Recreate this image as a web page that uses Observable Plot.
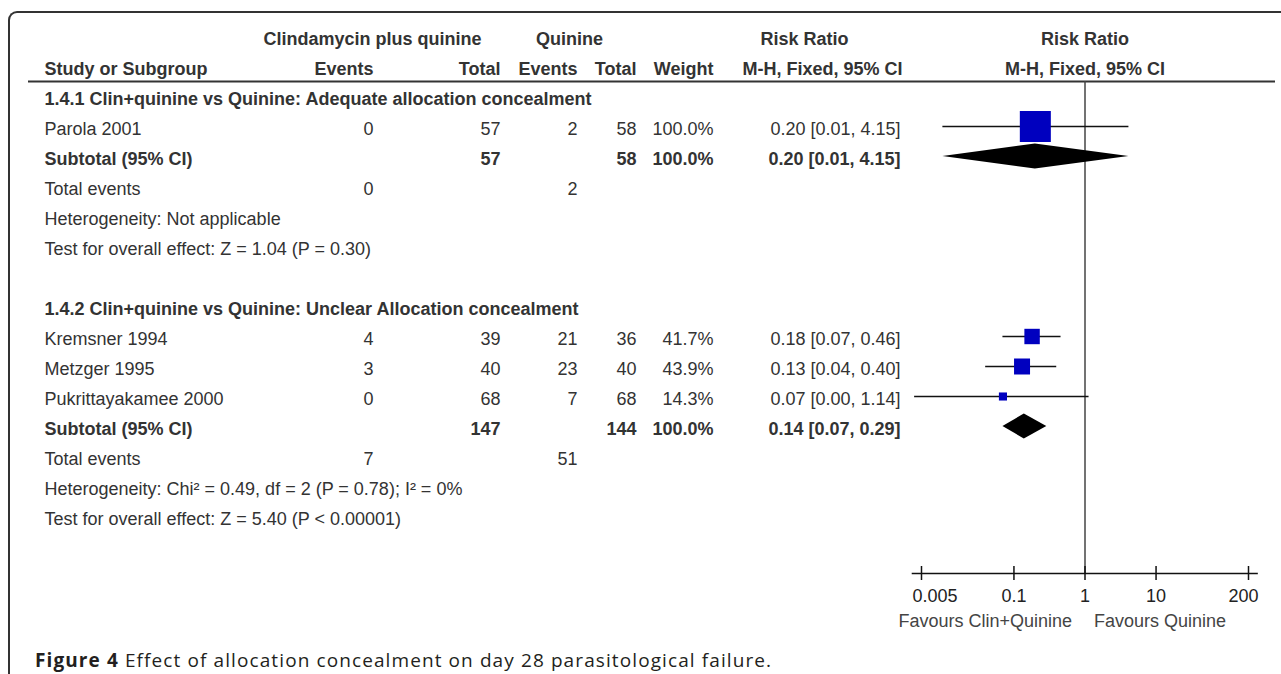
<!DOCTYPE html>
<html><head><meta charset="utf-8">
<script src="https://cdn.jsdelivr.net/npm/d3@7"></script>
<script src="https://cdn.jsdelivr.net/npm/@observablehq/plot@0.6"></script>
<style>
html,body{margin:0;padding:0;background:#fff;width:1281px;height:674px;overflow:hidden;}
#chart{position:absolute;left:0;top:0;}
#frame{position:absolute;left:8px;top:11px;width:1300px;height:700px;border-top:2px solid #333;border-left:2px solid #333;border-top-left-radius:9px;pointer-events:none;z-index:2;box-sizing:border-box;}
#caption{position:absolute;left:35px;top:649px;font-family:"Open Sans",sans-serif;font-size:19px;letter-spacing:1.1px;line-height:22px;color:#231f20;white-space:nowrap;}
</style></head><body>
<div id="chart"></div>
<div id="frame"></div>
<div id="caption"><b>Figure 4</b> Effect of allocation concealment on day 28 parasitological failure.</div>
<script>
// ---- data ----
const subgroups = [
  "1.4.1 Clin+quinine vs Quinine: Adequate allocation concealment",
  "1.4.2 Clin+quinine vs Quinine: Unclear Allocation concealment"
];
const studies = ["Parola 2001", "Kremsner 1994", "Metzger 1995", "Pukrittayakamee 2000"];
const studyGroup = [0, 1, 1, 1];
const expEvents = [0, 4, 3, 0];
const expTotal = [57, 39, 40, 68];
const ctlEvents = [2, 21, 23, 7];
const ctlTotal = [58, 36, 40, 68];
const weights = [100.0, 41.7, 43.9, 14.3];
const riskRatio = [0.20, 0.18, 0.13, 0.07];
const rrLow = [0.01, 0.07, 0.04, 0.004];
const rrHigh = [4.15, 0.46, 0.40, 1.14];

const subExpTotal = [57, 147];
const subCtlTotal = [58, 144];
const subWeight = [100.0, 100.0];
const subRR = [0.20, 0.14];
const subLow = [0.01, 0.07];
const subHigh = [4.15, 0.29];
const subExpEvents = [0, 7];
const subCtlEvents = [2, 51];
const heterogeneity = [
  "Heterogeneity: Not applicable",
  "Heterogeneity: Chi\u00b2 = 0.49, df = 2 (P = 0.78); I\u00b2 = 0%"
];
const overallEffect = [
  "Test for overall effect: Z = 1.04 (P = 0.30)",
  "Test for overall effect: Z = 5.40 (P < 0.00001)"
];
const axisTicks = [0.005, 0.1, 1, 10, 200];
const axisTickLabels = ["0.005", "0.1", "1", "10", "200"];
const axisExtent = [0.0037, 275];
const favourLabels = ["Favours Clin+Quinine", "Favours Quinine"];

// ---- rows ----
const studyRows = studies.map((s, i) => ({key: s, label: s, ee: expEvents[i], et: expTotal[i], ce: ctlEvents[i], ct: ctlTotal[i], w: weights[i], rr: riskRatio[i], lo: rrLow[i], hi: rrHigh[i]}));
const groupRows = subgroups.map((g, i) => ({key: "grp" + i, label: g}));
const subRows = subgroups.map((g, i) => ({key: "sub" + i, label: "Subtotal (95% CI)", et: subExpTotal[i], ct: subCtlTotal[i], w: subWeight[i], rr: subRR[i], lo: subLow[i], hi: subHigh[i]}));
const totRows = subgroups.map((g, i) => ({key: "tot" + i, label: "Total events", ee: subExpEvents[i], ce: subCtlEvents[i]}));
const hetRows = heterogeneity.map((t, i) => ({key: "het" + i, label: t}));
const effRows = overallEffect.map((t, i) => ({key: "eff" + i, label: t}));
const tickRows = axisTicks.map((t, i) => ({t, label: axisTickLabels[i], pos: i === 0 ? "first" : i === axisTicks.length - 1 ? "last" : "mid"}));

const rowOrder = ["h1", "h2"];
subgroups.forEach((g, i) => {
  rowOrder.push("grp" + i, ...studies.filter((s, j) => studyGroup[j] === i), "sub" + i, "tot" + i, "het" + i, "eff" + i, "gap" + i);
});
rowOrder.push("axis");

// ---- layout ----
const col = {label: 44, ee: 373, et: 500, ce: 577, ct: 636, w: 713, ci: 900, rrHead: 760, expHead: 263, ctlMid: 569};
const ink = "#333";
const T = (data, o) => Plot.text(data, {frameAnchor: "left", fill: ink, fontSize: 18, ...o});
const pct = d => d.w.toFixed(1) + "%";
const ciText = d => `${d.rr.toFixed(2)} [${d.lo.toFixed(2)}, ${d.hi.toFixed(2)}]`;
const B = {fontWeight: "bold"};
const markDy = -3;

function diamonds(index, scales) {
  const x = scales.x, y = scales.y;
  const g = d3.create("svg:g");
  for (const d of subRows) {
    const cy = y(d.key) + markDy;
    const h = 12.5;
    g.append("path")
      .attr("d", `M${x(d.lo)},${cy}L${x(d.rr)},${cy - h}L${x(d.hi)},${cy}L${x(d.rr)},${cy + h}Z`)
      .attr("fill", "#000");
  }
  return g.node();
}

const tickLabel = (pos, o) => Plot.text(tickRows.filter(d => d.pos === pos), {x: "t", y: () => "axis", dy: 17, text: "label", fill: "#222", fontSize: 18, ...o});

const chart = Plot.plot({
  width: 1281, height: 645,
  marginTop: 0, marginRight: 0, marginBottom: 0, marginLeft: 0,
  x: {type: "log", domain: [0.005, 200], range: [921, 1248], axis: null},
  y: {type: "point", domain: rowOrder, range: [38, 580], padding: 0, axis: null},
  r: {type: "linear", domain: [0, 100], range: [2.4, 17.5]},
  style: {fontFamily: "'Liberation Sans', Arial, Helvetica, sans-serif", fontSize: "18px", background: "transparent", color: ink},
  marks: [
    // headers
    T(["Clindamycin plus quinine"], {y: () => "h1", dx: col.expHead, textAnchor: "start", ...B}),
    T(["Quinine"], {y: () => "h1", dx: col.ctlMid, textAnchor: "middle", ...B}),
    T(["Risk Ratio"], {y: () => "h1", dx: col.rrHead, textAnchor: "start", ...B}),
    Plot.text(["Risk Ratio"], {x: () => 1, y: () => "h1", fill: ink, fontSize: 18, ...B}),
    T(["Study or Subgroup"], {y: () => "h2", dx: col.label, textAnchor: "start", ...B}),
    T(["Events"], {y: () => "h2", dx: col.ee, textAnchor: "end", ...B}),
    T(["Total"], {y: () => "h2", dx: col.et, textAnchor: "end", ...B}),
    T(["Events"], {y: () => "h2", dx: col.ce, textAnchor: "end", ...B}),
    T(["Total"], {y: () => "h2", dx: col.ct, textAnchor: "end", ...B}),
    T(["Weight"], {y: () => "h2", dx: col.w, textAnchor: "end", ...B}),
    T(["M-H, Fixed, 95% CI"], {y: () => "h2", dx: col.ci + 2, textAnchor: "end", ...B}),
    Plot.text(["M-H, Fixed, 95% CI"], {x: () => 1, y: () => "h2", fill: ink, fontSize: 18, ...B}),
    Plot.ruleY(["h2"], {dy: 12, insetLeft: 28, insetRight: 6, stroke: ink, strokeWidth: 1.8}),

    // subgroup headings
    T(groupRows, {y: "key", text: "label", dx: col.label, textAnchor: "start", ...B}),

    // studies
    T(studyRows, {y: "key", text: "label", dx: col.label, textAnchor: "start"}),
    T(studyRows, {y: "key", text: d => String(d.ee), dx: col.ee, textAnchor: "end"}),
    T(studyRows, {y: "key", text: d => String(d.et), dx: col.et, textAnchor: "end"}),
    T(studyRows, {y: "key", text: d => String(d.ce), dx: col.ce, textAnchor: "end"}),
    T(studyRows, {y: "key", text: d => String(d.ct), dx: col.ct, textAnchor: "end"}),
    T(studyRows, {y: "key", text: pct, dx: col.w, textAnchor: "end"}),
    T(studyRows, {y: "key", text: ciText, dx: col.ci, textAnchor: "end"}),

    // subtotals
    T(subRows, {y: "key", text: "label", dx: col.label, textAnchor: "start", ...B}),
    T(subRows, {y: "key", text: d => String(d.et), dx: col.et, textAnchor: "end", ...B}),
    T(subRows, {y: "key", text: d => String(d.ct), dx: col.ct, textAnchor: "end", ...B}),
    T(subRows, {y: "key", text: pct, dx: col.w, textAnchor: "end", ...B}),
    T(subRows, {y: "key", text: ciText, dx: col.ci, textAnchor: "end", ...B}),

    // total events, heterogeneity, overall effect
    T(totRows, {y: "key", text: "label", dx: col.label, textAnchor: "start"}),
    T(totRows, {y: "key", text: d => String(d.ee), dx: col.ee, textAnchor: "end"}),
    T(totRows, {y: "key", text: d => String(d.ce), dx: col.ce, textAnchor: "end"}),
    T(hetRows, {y: "key", text: "label", dx: col.label, textAnchor: "start"}),
    T(effRows, {y: "key", text: "label", dx: col.label, textAnchor: "start"}),

    // forest
    Plot.ruleX([1], {y1: () => "h2", y2: () => "axis", insetTop: 12, insetBottom: 6, stroke: "#444", strokeWidth: 1.5}),
    Plot.ruleY(studyRows, {y: "key", x1: "lo", x2: "hi", dy: markDy, stroke: "#111", strokeWidth: 1.6}),
    Plot.dot(studyRows, {x: "rr", y: "key", r: "w", symbol: "square", fill: "#0000bf", dy: markDy}),
    diamonds,

    // axis
    Plot.ruleY(["axis"], {x1: () => axisExtent[0], x2: () => axisExtent[1], dy: -6, stroke: "#111", strokeWidth: 1.5}),
    Plot.ruleX(axisTicks, {y1: () => "axis", y2: () => "axis", insetTop: -7, insetBottom: -7, dy: -6, stroke: "#111", strokeWidth: 1.5}),
    tickLabel("mid", {}),
    tickLabel("first", {textAnchor: "start", dx: -9}),
    tickLabel("last", {textAnchor: "end", dx: 10}),
    Plot.text([favourLabels[0]], {x: () => 1, y: () => "axis", dy: 42, dx: -13, textAnchor: "end", fill: "#444", fontSize: 18}),
    Plot.text([favourLabels[1]], {x: () => 1, y: () => "axis", dy: 42, dx: 9, textAnchor: "start", fill: "#444", fontSize: 18})
  ]
});
document.getElementById("chart").appendChild(chart);
</script></body></html>
